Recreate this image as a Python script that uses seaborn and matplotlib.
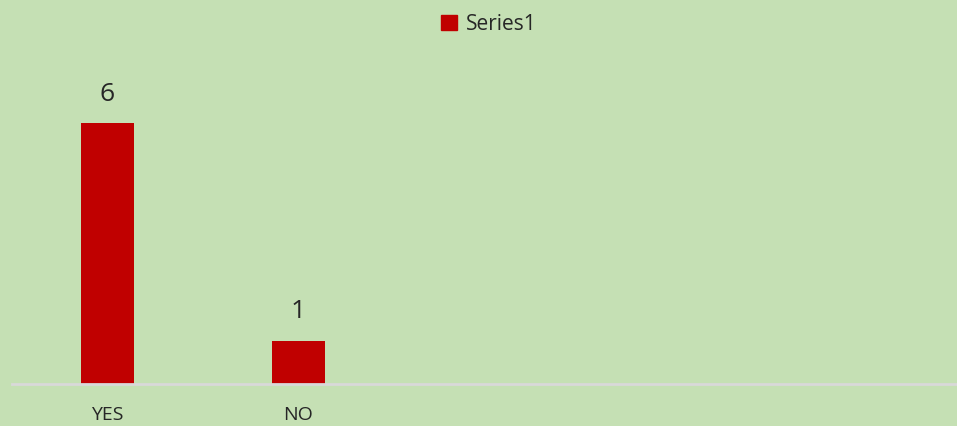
import matplotlib
matplotlib.use("Agg")
import matplotlib.pyplot as plt
import seaborn as sns
import pandas as pd
from matplotlib.patches import Patch

categories = ["YES", "NO"]
values = [6, 1]
series_name = "Series1"

bg = "#C5E0B4"
bar_color = "#C00000"
text_color = "#262626"

sns.set_style("white")
plt.rcParams['font.family'] = ['Open Sans', 'DejaVu Sans']

df = pd.DataFrame({"cat": categories, "val": values})

fig = plt.figure(figsize=(9.57, 4.26), dpi=100)
fig.patch.set_facecolor(bg)
ax = fig.add_axes([12 / 957, 1 - 384 / 426, 1 - 12 / 957, (384 - 80) / 426])
ax.set_facecolor(bg)

sns.barplot(data=df, x="cat", y="val", color=bar_color, width=0.277,
            saturation=1, linewidth=0, ax=ax)

ax.set_xlim(-0.5, -0.5 + 945 / 191)
ax.set_ylim(0, 7)
for s in ["top", "right", "left"]:
    ax.spines[s].set_visible(False)
ax.spines["bottom"].set_color("#D9D9D9")
ax.spines["bottom"].set_linewidth(2)
ax.set_yticks([])
ax.set_xlabel("")
ax.set_ylabel("")
ax.tick_params(axis="x", length=0, pad=16, labelsize=14, labelcolor=text_color)

for c in ax.containers:
    ax.bar_label(c, padding=12, fontsize=19, color=text_color)

fig.legend(handles=[Patch(color=bar_color, label=series_name)],
           loc="center", bbox_to_anchor=(489 / 957, 1 - 24 / 426),
           frameon=False, fontsize=15, handlelength=0.75, handleheight=0.75,
           handletextpad=0.45, labelcolor=text_color)

fig.savefig("out.png", dpi=100, facecolor=bg)
